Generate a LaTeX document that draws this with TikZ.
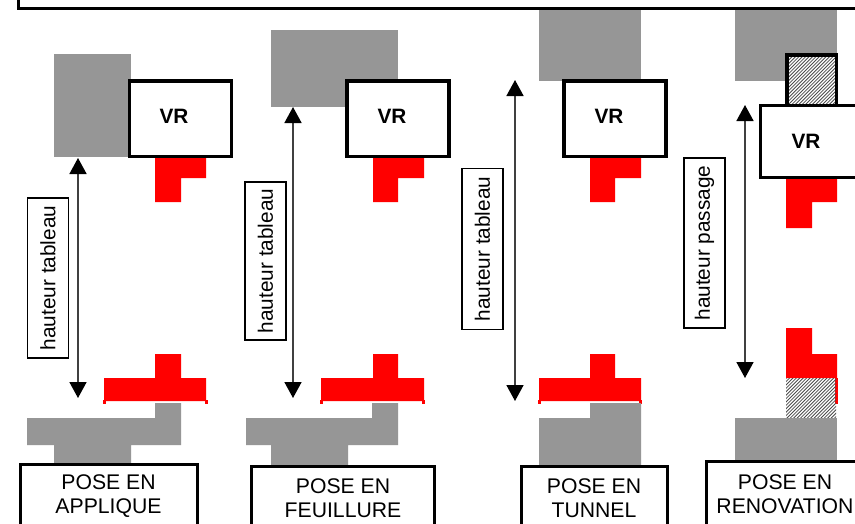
\documentclass[tikz,border=0pt]{standalone}
\usepackage{fontspec}
\setmainfont{Liberation Sans}
\usetikzlibrary{arrows.meta}
\definecolor{wallgray}{HTML}{969696}
\definecolor{redpart}{HTML}{FF0000}
\tikzset{
  wall/.style={fill=wallgray,draw=none},
  redfill/.style={fill=redpart,draw=none},
  vrbox/.style={draw=black,line width=3.6pt,fill=white,inner sep=0pt,outer sep=0pt},
  vrtext/.style={font=\fontsize{20.8}{24}\bfseries\selectfont,inner sep=0pt},
  dimtext/.style={draw=black,line width=1.6pt,fill=white,inner sep=0pt,outer sep=0pt,rotate=90,font=\fontsize{20.8}{24}\selectfont},
  posebox/.style={draw=black,line width=3pt,fill=white,anchor=north,inner sep=0pt,outer sep=0pt,minimum height=90pt},
  posetext/.style={align=center,inner sep=0pt,font=\fontsize{21.2}{24}\selectfont},
  dimarrow/.style={draw=black!75,line width=1.6pt,{Triangle[length=16pt,width=17pt,color=black]}-{Triangle[length=16pt,width=17pt,color=black]}},
  hatchbox/.style={draw=black,line width=3.6pt}
}
\newcommand{\hatchrect}[4]{%
  \begin{scope}
    \clip (#1,#2) rectangle (#3,#4);
    \foreach \k in {0,3.4,...,120}{
      \draw[black!70,line width=0.8pt] (#1-5+\k-50,#4+5) -- ++(60,-60);
    }
  \end{scope}}
\begin{document}
\begin{tikzpicture}[x=1pt,y=-1pt]
\path[use as bounding box,clip] (0,0) rectangle (855,523);
\fill[white] (0,0) rectangle (855,523);
% top banner
\node[draw=black,line width=3pt,anchor=south west,minimum width=900pt,minimum height=30pt,inner sep=0pt,outer sep=0pt] (banner) at (18.5,8.5) {};

% ---- column 1
\fill[wall] (54,54) rectangle (131,157);
\node[vrbox,minimum width=102pt,minimum height=75.5pt] (vrA) at (180.5,118.7) {};
\node[vrtext] (vrAt) at (174,116) {VR};
\fill[redfill] (155,158) -| (206,178) -| (181,202) -| cycle;
\fill[redfill] (155,354) -| (181,378) -| (206,401) -| (104,378) -| cycle;
\fill[redfill] (102.5,400) rectangle (105.5,404);
\fill[redfill] (204.5,400) rectangle (207.5,404);
\fill[wall] (155,403) -| (181,445) -| (131,463) -| (54,445) -| (27,418) -| cycle;
\coordinate (aT) at (78,158); \coordinate (aB) at (78,398);
\draw[dimarrow] (aT) -- (aB);
\node[dimtext,minimum width=160pt,minimum height=41pt] (dimA) at (48,278) {hauteur tableau};
\node[posebox,minimum width=177pt] (poseA) at (108.5,464) {};
\node[posetext] (poseAt) at (108.5,496) {POSE EN\\APPLIQUE};

% ---- column 2
\fill[wall] (271,30) rectangle (398,107);
\node[vrbox,minimum width=102pt,minimum height=75.5pt] (vrB) at (398,118.7) {};
\node[vrtext] (vrBt) at (392,116) {VR};
\fill[redfill] (373,158) -| (424,178) -| (398,202) -| cycle;
\fill[redfill] (373,354) -| (398,378) -| (424,401) -| (321,378) -| cycle;
\fill[redfill] (320,400) rectangle (323,404);
\fill[redfill] (421.5,400) rectangle (424.5,404);
\fill[wall] (372,403) -| (398,445) -| (348,466) -| (271,445) -| (246,418) -| cycle;
\coordinate (bT) at (293,107); \coordinate (bB) at (293,398);
\draw[dimarrow] (bT) -- (bB);
\node[dimtext,minimum width=158pt,minimum height=41pt] (dimB) at (265.5,261) {hauteur tableau};
\node[posebox,minimum width=183pt] (poseB) at (343,466.5) {};
\node[posetext] (poseBt) at (343,498) {POSE EN\\FEUILLURE};

% ---- column 3
\fill[wall] (539,10) rectangle (641,81);
\node[vrbox,minimum width=102pt,minimum height=75.5pt] (vrC) at (615,118.7) {};
\node[vrtext] (vrCt) at (609,116) {VR};
\fill[redfill] (590,158) -| (641,178) -| (615,202) -| cycle;
\fill[redfill] (590,354) -| (615,378) -| (641,401) -| (539,378) -| cycle;
\fill[redfill] (537.5,400) rectangle (540.5,404);
\fill[redfill] (639,400) rectangle (642,404);
\fill[wall] (590,403) -| (641,466) -| (539,418) -| cycle;
\coordinate (cT) at (515,80); \coordinate (cB) at (515,401);
\draw[dimarrow] (cT) -- (cB);
\node[dimtext,minimum width=161pt,minimum height=41pt] (dimC) at (482.5,249) {hauteur tableau};
\node[posebox,minimum width=146pt] (poseC) at (594,466.5) {};
\node[posetext] (poseCt) at (594,498) {POSE EN\\TUNNEL};

% ---- column 4
\fill[wall] (735,10) rectangle (837,81);
\fill[white] (787,55) rectangle (836,105);
\hatchrect{787}{55}{836}{105}
\draw[hatchbox] (787,55) rectangle (836.5,106);
\node[vrbox,anchor=north west,minimum width=120pt,minimum height=72pt] (vrD) at (760.5,105.5) {};
\node[vrtext] (vrDt) at (806,141) {VR};
\fill[redfill] (786,179) -| (837,202) -| (812,228) -| cycle;
\fill[redfill] (786,328) -| (812,354) -| (837,378) -| cycle;
\fill[redfill] (835,378) rectangle (838,404);
\hatchrect{786}{378}{836}{418}
\fill[wall] (735,418) rectangle (837,462);
\coordinate (dT) at (745,105); \coordinate (dB) at (745,378);
\draw[dimarrow] (dT) -- (dB);
\node[dimtext,minimum width=170pt,minimum height=41pt] (dimD) at (704.5,243) {hauteur passage};
\node[posebox,anchor=north west,minimum width=170pt] (poseD) at (706.5,461.5) {};
\node[posetext] (poseDt) at (785,494) {POSE EN\\RENOVATION};
\end{tikzpicture}
\end{document}
